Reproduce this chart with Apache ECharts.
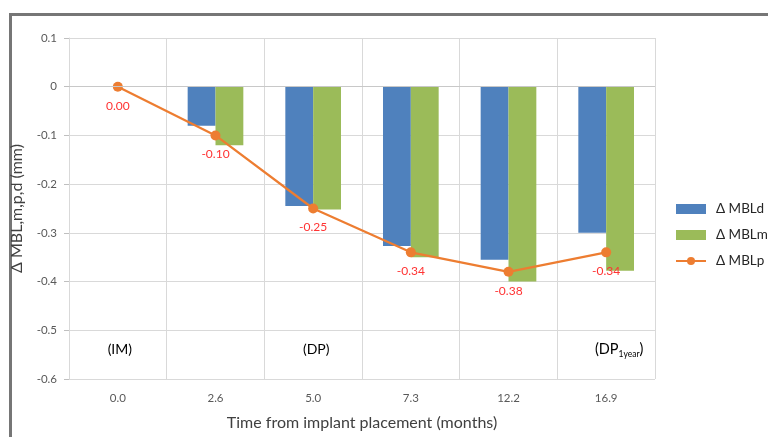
<!DOCTYPE html>
<html>
<head>
<meta charset="utf-8">
<script src="https://cdn.jsdelivr.net/npm/echarts@6/dist/echarts.min.js"></script>
<style>
  html, body { margin: 0; padding: 0; background: #fff; }
  #chart { width: 768px; height: 437px; }
</style>
</head>
<body>
<div id="chart"></div>
<script>
// Months since implant placement
const categories = ['0.0', '2.6', '5.0', '7.3', '12.2', '16.9'];
// Marginal bone level change (mm): distal, mesial, mean
const mblD = [null, -0.08, -0.245, -0.327, -0.355, -0.30];
const mblM = [null, -0.12, -0.252, -0.35, -0.40, -0.378];
const mblP = [0.00, -0.10, -0.25, -0.34, -0.38, -0.34];
// Phase annotations: [category, y value, text]
const phases = [['0.0', -0.54, '(IM)'], ['5.0', -0.54, '(DP)'], ['16.9', -0.54, '{b|(DP}{s|1year}{b|)}']];

const FONT = 'Lato, "Open Sans", sans-serif';
const chart = echarts.init(document.getElementById('chart'));

chart.setOption({
  animation: false,
  textStyle: { fontFamily: FONT },
  graphic: [{
    type: 'rect', left: 8, top: 12,
    shape: { x: 0, y: 0, width: 820, height: 500 },
    style: { fill: 'none', stroke: '#767676', lineWidth: 3 },
    silent: true
  }],
  grid: { left: 69, right: 113, top: 38, bottom: 58 },
  legend: {
    orient: 'vertical', left: 670, top: 197, itemGap: 12, padding: 5,
    itemWidth: 30, itemHeight: 10,
    textStyle: { fontFamily: FONT, fontSize: 13.5, color: '#262626', padding: [0, 0, 0, 5] },
    data: [
      { name: 'Δ MBLd', icon: 'rect' },
      { name: 'Δ MBLm', icon: 'rect' },
      { name: 'Δ MBLp' }
    ]
  },
  xAxis: {
    type: 'category', data: categories, boundaryGap: true,
    name: 'Time from implant placement (months)', nameLocation: 'middle', nameGap: 36,
    nameTextStyle: { fontFamily: FONT, fontSize: 16, color: '#404040' },
    axisLine: { show: true, lineStyle: { color: '#d9d9d9' } },
    axisTick: { show: false },
    axisLabel: { color: '#595959', fontSize: 11.5, margin: 13, fontFamily: FONT },
    splitLine: { show: true, lineStyle: { color: '#d9d9d9' } }
  },
  yAxis: {
    type: 'value', min: -0.6, max: 0.1, interval: 0.1,
    name: 'Δ MBL,m,p,d (mm)', nameLocation: 'middle', nameGap: 44, nameRotate: 90,
    nameTextStyle: { fontFamily: FONT, fontSize: 16, color: '#404040' },
    axisLine: { show: true, lineStyle: { color: '#d9d9d9' } },
    axisTick: { show: true, length: 5, lineStyle: { color: '#bfbfbf' } },
    axisLabel: {
      color: '#595959', fontSize: 11.5, margin: 12, fontFamily: FONT,
      formatter: v => Math.abs(v) < 1e-9 ? '0' : v.toFixed(1)
    },
    splitLine: { lineStyle: { color: '#d9d9d9' } }
  },
  series: [
    {
      name: 'Δ MBLd', type: 'bar', data: mblD,
      barGap: '0%', barCategoryGap: '43%',
      itemStyle: { color: '#4F81BD' },
      markLine: {
        silent: true, symbol: 'none', label: { show: false },
        lineStyle: { color: '#c8c8c8', type: 'solid', width: 1 },
        data: [{ yAxis: 0 }]
      }
    },
    {
      name: 'Δ MBLm', type: 'bar', data: mblM,
      itemStyle: { color: '#9BBB59' }
    },
    {
      name: 'Δ MBLp', type: 'line', data: mblP,
      symbol: 'circle', symbolSize: 10,
      lineStyle: { color: '#ED7D31', width: 2.25 },
      itemStyle: { color: '#ED7D31' },
      label: {
        show: true, position: 'bottom', distance: 8,
        color: '#FF3333', fontSize: 12, fontFamily: FONT,
        formatter: p => p.value.toFixed(2)
      },
      markPoint: {
        symbol: 'circle', symbolSize: 0, silent: true,
        label: {
          show: true, position: 'inside', color: '#000', fontSize: 14, fontFamily: FONT,
          rich: {
            b: { fontSize: 14.5, color: '#000', fontFamily: FONT },
            s: { fontSize: 8.5, color: '#000', fontFamily: FONT, verticalAlign: 'bottom', padding: [8, 0, 0, 0] }
          },
          formatter: p => p.data.text
        },
        data: phases.map(([c, y, t], i) => ({
          coord: [c, y], text: t, symbolOffset: [i === 2 ? 13 : (i === 1 ? 3 : 2), 0]
        }))
      }
    }
  ]
});
</script>
</body>
</html>
